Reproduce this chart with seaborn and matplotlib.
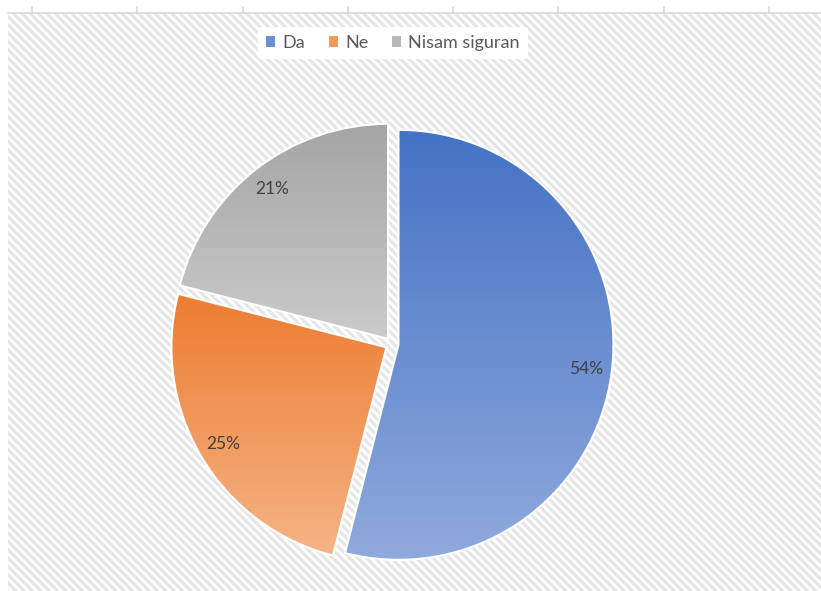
import numpy as np
import matplotlib
matplotlib.use("Agg")
import matplotlib.pyplot as plt
import seaborn as sns
from matplotlib.patches import Rectangle, Patch
from matplotlib.colors import to_rgb

# data
categories = ['Da', 'Ne', 'Nisam siguran']
shares = [54, 25, 21]
top_colors = ['#4472C4', '#ED7D31', '#A5A5A5']
bottom_colors = ['#90AADC', '#F5B487', '#CBCBCB']
legend_colors = ['#6A8FD2', '#F19A5E', '#B8B8B8']
col_ticks = [32, 137, 243, 348, 453, 558, 664, 769]

sns.set_theme(style='white')
plt.rcParams['font.family'] = ['Lato', 'DejaVu Sans']
plt.rcParams['hatch.linewidth'] = 2.2
plt.rcParams['hatch.color'] = '#e6e6e6'

W, H = 821, 591
fig = plt.figure(figsize=(W / 100, H / 100), dpi=100)
ax = fig.add_axes([0, 0, 1, 1])
ax.set_xlim(0, W)
ax.set_ylim(0, H)
ax.axis('off')

#hatched chart area
bg = Rectangle((8, 0), W - 8, H - 13, facecolor='white', edgecolor='#e6e6e6',
               hatch='\\' * 4, linewidth=0, zorder=0)
ax.add_patch(bg)
ax.plot([8, W], [H - 13, H - 13], color='#d9d9d9', lw=1.2, zorder=1)
for x in col_ticks:
    ax.plot([x, x], [H - 13, H - 7], color='#d9d9d9', lw=1.2, zorder=1)

#pie (explode is in data units here, i.e. pixels)
wedges, texts, autotexts = ax.pie(
    shares, colors=top_colors, startangle=90, counterclock=False,
    center=(392, H - 344), radius=215, explode=[6.5] * 3,
    autopct='%1.0f%%', pctdistance=0.88,
    wedgeprops=dict(edgecolor='white', linewidth=1.5),
    textprops=dict(color='#404040', fontsize=12.5))

#vertical gradient fill per slice
for w, c1, c2 in zip(wedges, top_colors, bottom_colors):
    v = w.get_path().vertices
    x0, x1 = v[:, 0].min(), v[:, 0].max()
    y0, y1 = v[:, 1].min(), v[:, 1].max()
    t = np.linspace(0, 1, 256)[:, None]
    grad = (1 - t) * np.array(to_rgb(c1)) + t * np.array(to_rgb(c2))
    img = ax.imshow(grad[:, None, :], extent=(x0, x1, y0, y1), origin='upper',
                    aspect='auto', interpolation='bilinear', zorder=2)
    img.set_clip_path(w)
    w.set_facecolor('none')
    w.set_zorder(3)
for t in autotexts:
    t.set_zorder(4)

ax.set_xlim(0, W)
ax.set_ylim(0, H)

handles = [Patch(facecolor=c, edgecolor='none') for c in legend_colors]
leg = ax.legend(handles, categories, loc='center', ncol=3,
                bbox_to_anchor=(393 / W, 1 - 43 / H), frameon=True,
                fontsize=13, handlelength=0.5, handleheight=0.5,
                handletextpad=0.4, columnspacing=1.3, borderpad=0.45)
leg.get_frame().set_facecolor('white')
leg.get_frame().set_edgecolor('none')
leg.get_frame().set_alpha(1)
for txt in leg.get_texts():
    txt.set_color('#595959')

fig.savefig('out.png', dpi=100, facecolor='white')
